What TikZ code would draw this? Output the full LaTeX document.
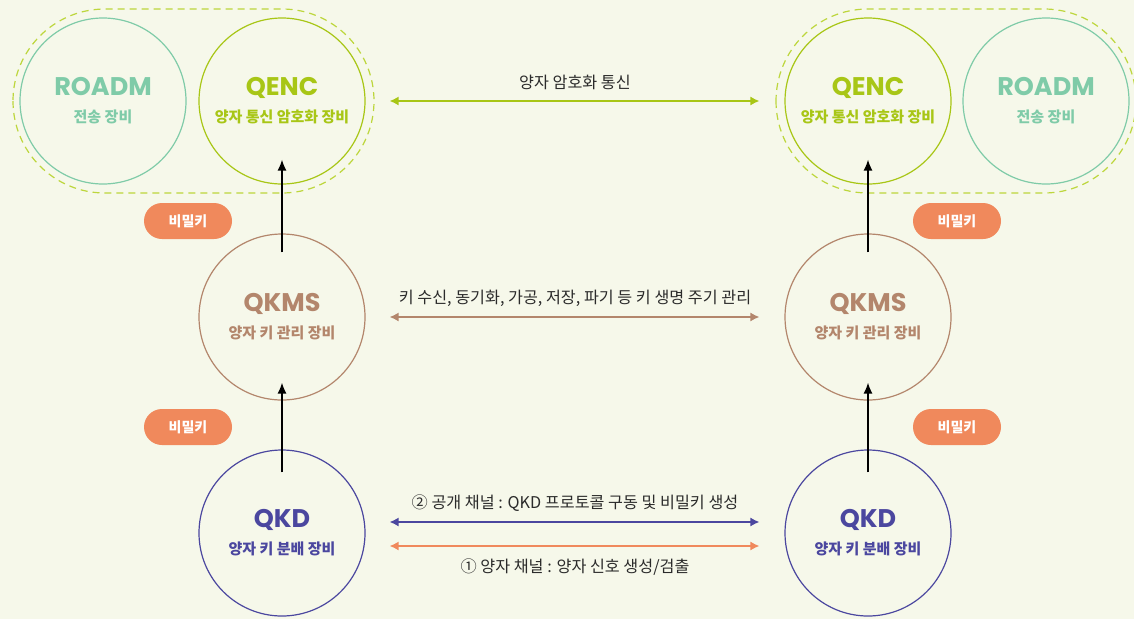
\documentclass[tikz,border=0pt]{standalone}
\usepackage{fontspec}
\setmainfont{Noto Sans CJK KR}
\newfontfamily\popfont{Poppins}
\usetikzlibrary{arrows.meta, calc}

\definecolor{bgC}{HTML}{F6F8EA}
\definecolor{roadmC}{HTML}{7FCBA8}
\definecolor{qencC}{HTML}{A8C616}
\definecolor{groupC}{HTML}{BDD63C}
\definecolor{qkmsC}{HTML}{B3866C}
\definecolor{qkdC}{HTML}{4B479F}
\definecolor{keyC}{HTML}{F0895C}
\definecolor{txtC}{HTML}{2B2B2B}

\newcommand\devname[2]{{\popfont\bfseries\fontsize{25.5}{27}\selectfont #1}\\{\bfseries\fontsize{15}{27}\selectfont #2}}

\begin{document}
\begin{tikzpicture}[x=1pt, y=-1pt,
    dev/.style={circle, draw=#1, text=#1, line width=1.2pt, minimum size=166pt,
        inner sep=0pt, align=center, font=\fontsize{15}{27}\selectfont},
    keytag/.style={fill=keyC, rounded corners=18pt, minimum width=88pt, minimum height=36pt,
        inner sep=0pt, text=white, font=\bfseries\fontsize{14}{16}\selectfont},
    link/.style={line width=1.4pt, {Latex[length=9pt,width=9pt]}-{Latex[length=9pt,width=9pt]},
        shorten <=24pt, shorten >=25pt},
    up/.style={line width=1.5pt, -{Latex[length=11pt,width=9pt]}},
    group/.style={draw=groupC, line width=1.2pt, dash pattern=on 7pt off 5pt, rounded corners=92pt},
    note/.style={text=txtC, font=\fontsize{16.2}{18}\selectfont}
]
    \useasboundingbox[fill=bgC] (0,0) rectangle (1134,619);

    % left side
    \node[dev=roadmC] (roadmL) at (103,101) {\devname{ROADM}{전송 장비}};
    \node[dev=qencC] (qencL) at (282,101) {\devname{QENC}{양자 통신 암호화 장비}};
    \node[dev=qkmsC] (qkmsL) at (282,317) {\devname{QKMS}{양자 키 관리 장비}};
    \node[dev=qkdC] (qkdL) at (282,533) {\devname{QKD}{양자 키 분배 장비}};
    \draw[group] ($(roadmL.center)+(-90,-92)$) rectangle ($(qencL.center)+(92,92)$);

    % right side
    \node[dev=qencC] (qencR) at (868,101) {\devname{QENC}{양자 통신 암호화 장비}};
    \node[dev=roadmC] (roadmR) at (1046,101) {\devname{ROADM}{전송 장비}};
    \node[dev=qkmsC] (qkmsR) at (868,317) {\devname{QKMS}{양자 키 관리 장비}};
    \node[dev=qkdC] (qkdR) at (868,533) {\devname{QKD}{양자 키 분배 장비}};
    \draw[group] ($(qencR.center)+(-92,-92)$) rectangle ($(roadmR.center)+(90,92)$);

    % secret keys
    \node[keytag] (keyL1) at (188,221) {비밀키};
    \node[keytag] (keyL2) at (188,427) {비밀키};
    \node[keytag] (keyR1) at (957,221) {비밀키};
    \node[keytag] (keyR2) at (957,427) {비밀키};

    \draw[up] ($(qkdL.north)+(0,23)$) -- ($(qkmsL.south)+(0,-18)$);
    \draw[up] ($(qkmsL.north)+(0,19)$) -- ($(qencL.south)+(0,-25)$);
    \draw[up] ($(qkdR.north)+(0,23)$) -- ($(qkmsR.south)+(0,-18)$);
    \draw[up] ($(qkmsR.north)+(0,19)$) -- ($(qencR.south)+(0,-25)$);

    % channels
    \draw[link, qencC] (qencL.east) -- (qencR.west)
        node[note, midway, yshift=19pt] {양자 암호화 통신};
    \draw[link, qkmsC] (qkmsL.east) -- (qkmsR.west)
        node[note, midway, yshift=19pt] {키 수신, 동기화, 가공, 저장, 파기 등 키 생명 주기 관리};
    \draw[link, qkdC] ($(qkdL.east)+(0,-11)$) -- ($(qkdR.west)+(0,-11)$)
        node[note, midway, yshift=19pt] {② 공개 채널 : QKD 프로토콜 구동 및 비밀키 생성};
    \draw[link, keyC] ($(qkdL.east)+(0,13)$) -- ($(qkdR.west)+(0,13)$)
        node[note, midway, yshift=-21pt] {① 양자 채널 : 양자 신호 생성/검출};
\end{tikzpicture}
\end{document}
